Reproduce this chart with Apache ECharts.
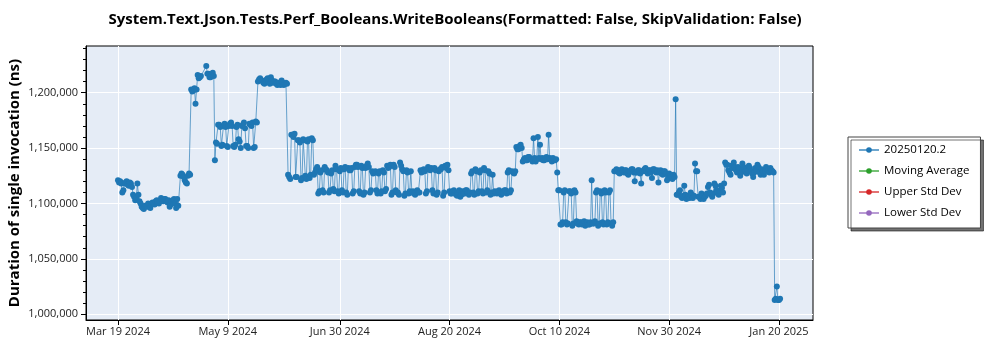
<!DOCTYPE html>
<html>
<head>
<meta charset="utf-8">
<script src="https://cdn.jsdelivr.net/npm/echarts@6/dist/echarts.min.js"></script>
<style>
html,body{margin:0;padding:0;background:#fff;}
#chart{width:1000px;height:350px;}
</style>
</head>
<body>
<div id="chart"></div>
<script>
// ---- data: [day of month (.5 = noon), duration in ns] per month ----
const mar2024 = [[19,1121000],[19.5,1119000],[20,1120000],[20.5,1118000],[21,1110000],[21.5,1112000],[22,1118000],[22.5,1119000],[23,1120000],[23.5,1117000],[24,1116000],[24.5,1119000],[25,1118000],[25.5,1115000],[26,1108000],[26.5,1106000],[27,1103000],[27.5,1105000],[28,1118000],[28.5,1108000],[29,1102000],[29.5,1100000],[30,1097000],[30.5,1096000],[31,1095000],[31.5,1098000]];
const apr2024 = [[1,1098000],[1.5,1097000],[2,1100000],[2.5,1099000],[3,1096000],[3.5,1099000],[4,1101000],[4.5,1100000],[5,1099000],[5.5,1102000],[6,1103000],[6.5,1101000],[7,1100000],[7.5,1102000],[8,1105000],[8.5,1103000],[9,1102000],[9.5,1104000],[10,1104000],[10.5,1102000],[11,1101000],[11.5,1103000],[12,1097000],[12.5,1099000],[13,1102000],[13.5,1103000],[14,1104000],[14.5,1100000],[15,1096000],[15.5,1104000],[16,1098000],[17,1125000],[17.5,1127000],[18,1126000],[18.5,1124000],[19,1121000],[19.5,1119000],[20,1118000],[20.5,1125000],[21,1127000],[21.5,1126000],[22,1203000],[22.5,1201000],[23,1202000],[23.5,1204000],[24,1190000],[24.5,1203000],[25,1216000],[25.5,1213000],[26,1214000],[26.5,1215000],[29,1224000],[29.5,1217000],[30,1217000],[30.5,1214000]];
const may2024 = [[1,1214000],[1.5,1216000],[2,1218000],[2.5,1215000],[3,1139000],[3.5,1155000],[4,1154000],[4.5,1171000],[5,1171000],[5.5,1169000],[6,1152000],[6.5,1153000],[7,1170000],[7.5,1172000],[8,1169000],[8.5,1152000],[9,1151000],[9.5,1170000],[10,1172000],[10.5,1173000],[11,1170000],[11.5,1152000],[12,1151000],[12.5,1153000],[13,1169000],[13.5,1171000],[14,1158000],[14.5,1156000],[15,1150000],[15.5,1170000],[16,1171000],[16.5,1173000],[17,1168000],[17.5,1152000],[18,1152000],[18.5,1150000],[19,1172000],[19.5,1171000],[20,1170000],[20.5,1173000],[21,1150000],[21.5,1151000],[22,1174000],[22.5,1173000],[23,1210000],[23.5,1212000],[24,1213000],[24.5,1211000],[25,1211000],[25.5,1209000],[26,1208000],[26.5,1210000],[27,1212000],[27.5,1213000],[28,1210000],[28.5,1208000],[29,1214000],[29.5,1211000],[30,1209000],[30.5,1210000],[31,1210000],[31.5,1208000]];
const jun2024 = [[1,1207000],[1.5,1209000],[2,1208000],[2.5,1207000],[3,1211000],[3.5,1209000],[4,1207000],[4.5,1208000],[5,1209000],[5.5,1208000],[6,1126000],[6.5,1124000],[7,1122000],[7.5,1162000],[8,1162000],[8.5,1160000],[9,1163000],[9.5,1124000],[10,1124000],[10.5,1157000],[11,1157000],[11.5,1155000],[12,1121000],[12.5,1123000],[13,1158000],[13.5,1157000],[14,1125000],[14.5,1122000],[15,1156000],[15.5,1158000],[16,1123000],[16.5,1126000],[17,1159000],[17.5,1157000],[18,1126000],[18.5,1128000],[19,1131000],[19.5,1133000],[20,1109000],[20.5,1111000],[21,1128000],[21.5,1130000],[22,1112000],[22.5,1110000],[23,1133000],[23.5,1131000],[24,1130000],[24.5,1128000],[25,1110000],[25.5,1112000],[26,1127000],[26.5,1130000],[27,1113000],[27.5,1111000],[28,1134000],[28.5,1131000],[29,1111000],[29.5,1109000],[30,1129000],[30.5,1132000]];
const jul2024 = [[1,1112000],[1.5,1110000],[2,1131000],[2.5,1133000],[3,1110000],[3.5,1108000],[4,1132000],[4.5,1130000],[5,1130000],[5.5,1132000],[6,1109000],[6.5,1111000],[7,1133000],[7.5,1135000],[8,1135000],[8.5,1133000],[9,1111000],[9.5,1109000],[10,1134000],[10.5,1132000],[11,1108000],[11.5,1110000],[12,1132000],[12.5,1134000],[13,1136000],[13.5,1133000],[14,1110000],[14.5,1112000],[15,1129000],[15.5,1127000],[16,1128000],[16.5,1129000],[17,1112000],[17.5,1109000],[18,1127000],[18.5,1129000],[19,1109000],[19.5,1111000],[20,1130000],[20.5,1128000],[21,1111000],[21.5,1113000],[22,1134000],[22.5,1132000],[23,1133000],[23.5,1135000],[24,1108000],[24.5,1110000],[25,1135000],[25.5,1133000],[26,1112000],[26.5,1110000],[27,1110000],[27.5,1108000],[28,1137000],[28.5,1134000],[29,1131000],[29.5,1129000],[30,1107000],[30.5,1109000],[31,1130000],[31.5,1128000]];
const aug2024 = [[1,1109000],[1.5,1111000],[2,1129000],[2.5,1110000],[3,1111000],[3.5,1109000],[4,1108000],[4.5,1110000],[5,1112000],[5.5,1110000],[6,1110000],[6.5,1130000],[7,1128000],[7.5,1130000],[8,1131000],[8.5,1129000],[9,1109000],[9.5,1111000],[10,1133000],[10.5,1131000],[11,1130000],[11.5,1132000],[12,1112000],[12.5,1109000],[13,1132000],[13.5,1130000],[14,1108000],[14.5,1110000],[15,1129000],[15.5,1131000],[16,1131000],[16.5,1133000],[17,1107000],[17.5,1110000],[18,1134000],[18.5,1132000],[19,1135000],[19.5,1130000],[20,1111000],[20.5,1109000],[21,1109000],[21.5,1111000],[22,1112000],[22.5,1110000],[23,1108000],[23.5,1107000],[24,1110000],[24.5,1112000],[25,1106000],[25.5,1108000],[26,1111000],[26.5,1109000],[27,1109000],[27.5,1112000],[28,1112000],[28.5,1110000],[29,1108000],[29.5,1110000],[30,1127000],[30.5,1129000],[31,1110000],[31.5,1108000]];
const sep2024 = [[1,1131000],[1.5,1129000],[2,1109000],[2.5,1111000],[3,1128000],[3.5,1130000],[4,1111000],[4.5,1109000],[5,1132000],[5.5,1130000],[6,1110000],[6.5,1112000],[7,1129000],[7.5,1127000],[8,1108000],[8.5,1110000],[9,1126000],[9.5,1109000],[10,1111000],[10.5,1110000],[11,1109000],[11.5,1111000],[12,1112000],[12.5,1110000],[13,1108000],[13.5,1110000],[14,1110000],[14.5,1112000],[15,1112000],[15.5,1109000],[16,1128000],[16.5,1130000],[17,1110000],[17.5,1112000],[18,1129000],[18.5,1128000],[19,1127000],[19.5,1129000],[20,1151000],[20.5,1149000],[21,1149000],[21.5,1152000],[22,1153000],[22.5,1150000],[23,1138000],[23.5,1140000],[24,1141000],[24.5,1139000],[25,1139000],[25.5,1142000],[26,1142000],[26.5,1140000],[27,1140000],[27.5,1138000],[28,1159000],[28.5,1141000],[29,1138000],[29.5,1140000],[30,1160000],[30.5,1141000]];
const oct2024 = [[1,1153000],[1.5,1140000],[2,1141000],[2.5,1139000],[3,1139000],[3.5,1141000],[4,1142000],[4.5,1140000],[5,1162000],[5.5,1141000],[6,1140000],[6.5,1138000],[7,1141000],[7.5,1139000],[8,1139000],[8.5,1140000],[9,1128000],[9.5,1112000],[10,1112000],[10.5,1081000],[11,1081000],[11.5,1083000],[12,1110000],[12.5,1112000],[13,1083000],[13.5,1081000],[14,1082000],[14.5,1111000],[15,1111000],[15.5,1109000],[16,1080000],[16.5,1082000],[17,1112000],[17.5,1110000],[18,1084000],[18.5,1082000],[19,1081000],[19.5,1083000],[20,1083000],[20.5,1081000],[21,1082000],[21.5,1084000],[22,1080000],[22.5,1082000],[23,1083000],[23.5,1081000],[24,1081000],[24.5,1083000],[25,1121000],[25.5,1082000],[26,1082000],[26.5,1084000],[27,1110000],[27.5,1112000],[28,1080000],[28.5,1082000],[29,1111000],[29.5,1109000],[30,1083000],[30.5,1081000],[31,1112000],[31.5,1110000]];
const nov2024 = [[1,1081000],[1.5,1083000],[2,1110000],[2.5,1112000],[3,1082000],[3.5,1080000],[4,1083000],[4.5,1129000],[5,1129000],[5.5,1131000],[6,1130000],[6.5,1128000],[7,1127000],[7.5,1130000],[8,1131000],[8.5,1129000],[9,1128000],[9.5,1130000],[10,1130000],[10.5,1127000],[11,1126000],[11.5,1129000],[12,1129000],[12.5,1131000],[13,1131000],[13.5,1128000],[14,1120000],[14.5,1128000],[15,1128000],[15.5,1130000],[16,1130000],[16.5,1127000],[17,1118000],[17.5,1129000],[18,1129000],[18.5,1131000],[19,1132000],[19.5,1129000],[20,1127000],[20.5,1130000],[21,1130000],[21.5,1128000],[22,1123000],[22.5,1131000],[23,1131000],[23.5,1129000],[24,1128000],[24.5,1130000],[25,1119000],[25.5,1128000],[26,1130000],[26.5,1127000],[27,1126000],[27.5,1129000],[28,1129000],[28.5,1127000],[29,1121000],[29.5,1124000],[30,1127000],[30.5,1125000]];
const dec2024 = [[1,1124000],[1.5,1122000],[2,1126000],[2.5,1124000],[3,1194000],[3.5,1108000],[4,1108000],[4.5,1110000],[5,1112000],[5.5,1106000],[6,1105000],[6.5,1107000],[7,1116000],[7.5,1108000],[8,1104000],[8.5,1106000],[9,1107000],[9.5,1105000],[10,1110000],[10.5,1108000],[11,1105000],[11.5,1107000],[12,1136000],[12.5,1129000],[13,1129000],[13.5,1106000],[14,1106000],[14.5,1104000],[15,1109000],[15.5,1107000],[16,1104000],[16.5,1106000],[17,1107000],[17.5,1109000],[18,1115000],[18.5,1117000],[19,1110000],[19.5,1108000],[20,1106000],[20.5,1109000],[21,1118000],[21.5,1116000],[22,1112000],[22.5,1110000],[23,1108000],[23.5,1111000],[24,1116000],[24.5,1114000],[25,1110000],[25.5,1118000],[26,1137000],[26.5,1135000],[27,1135000],[27.5,1130000],[28,1128000],[28.5,1126000],[29,1134000],[29.5,1132000],[30,1137000],[30.5,1133000],[31,1130000],[31.5,1128000]];
const jan2025 = [[1,1133000],[1.5,1131000],[2,1125000],[2.5,1128000],[3,1136000],[3.5,1133000],[4,1131000],[4.5,1129000],[5,1127000],[5.5,1130000],[6,1134000],[6.5,1132000],[7,1129000],[7.5,1127000],[8,1124000],[8.5,1128000],[9,1132000],[9.5,1130000],[10,1135000],[10.5,1133000],[11,1128000],[11.5,1126000],[12,1131000],[12.5,1129000],[13,1126000],[13.5,1129000],[14,1133000],[14.5,1131000],[15,1130000],[15.5,1128000],[16,1132000],[16.5,1130000],[17,1129000],[17.5,1128000],[18,1013000],[18.5,1014000],[19,1025000],[19.5,1013000],[20,1013000],[20.5,1014000]];

const xTickDates = ["2024-03-19","2024-05-09","2024-06-30","2024-08-20","2024-10-10","2024-11-30","2025-01-20"];
const yTickValues = [1000000,1050000,1100000,1150000,1200000];
const seriesNames = ["20250120.2","Moving Average","Upper Std Dev","Lower Std Dev"];
const seriesColors = ["#1f77b4","#2ca02c","#d62728","#9467bd"];
const titleText = "System.Text.Json.Tests.Perf_Booleans.WriteBooleans(Formatted: False, SkipValidation: False)";
const yName = "Duration of single invocation (ns)";

// ---- build ----
const MONTHS = ['Jan','Feb','Mar','Apr','May','Jun','Jul','Aug','Sep','Oct','Nov','Dec'];
function toTime(s){const p=s.split('-');return new Date(+p[0],+p[1]-1,+p[2]).getTime();}
function month(y,m,arr){
  return arr.map(function(r){
    const day = Math.floor(r[0]);
    const hour = Math.round((r[0]-day)*24);
    return [new Date(y,m-1,day,hour).getTime(), r[1]];
  });
}
const points = [].concat(
  month(2024,3,mar2024), month(2024,4,apr2024), month(2024,5,may2024), month(2024,6,jun2024),
  month(2024,7,jul2024), month(2024,8,aug2024), month(2024,9,sep2024), month(2024,10,oct2024),
  month(2024,11,nov2024), month(2024,12,dec2024), month(2025,1,jan2025)
);
const xTicks = xTickDates.map(toTime);
const xMin = new Date(2024,2,4,3,20).getTime();
const xMax = new Date(2025,1,4,19,0).getTime();
const yMin = 994850, yMax = 1242150;
const minorTicks = [];
for (let v = 1000000; v <= 1240000; v += 10000) minorTicks.push(v);

const FONT = '"Open Sans", "Noto Sans", sans-serif';
const chart = echarts.init(document.getElementById('chart'), null, {renderer:'canvas'});
chart.setOption({
  animation: false,
  textStyle: {fontFamily: FONT},
  title: {
    text: titleText, left: 450, top: 7, textAlign: 'center',
    textStyle: {fontSize: 15, fontWeight: 'bold', color: '#000', fontFamily: FONT}
  },
  legend: {
    orient: 'vertical', left: 848, top: 137,
    padding: [6, 11, 8, 10], itemGap: 7, itemWidth: 20, itemHeight: 7,
    backgroundColor: '#fff', borderColor: '#444', borderWidth: 1,
    shadowColor: 'rgba(0,0,0,0.55)', shadowBlur: 0, shadowOffsetX: 3, shadowOffsetY: 3,
    textStyle: {fontSize: 11.5, color: '#000', fontFamily: FONT, lineHeight: 14},
    data: seriesNames, selectedMode: false
  },
  grid: {
    left: 86, right: 187, top: 46, bottom: 30, outerBoundsMode: 'none', containLabel: false,
    show: true, backgroundColor: '#E5ECF6', borderColor: '#000', borderWidth: 1
  },
  xAxis: {
    type: 'value', min: xMin, max: xMax, scale: true,
    axisLine: {lineStyle: {color: '#000', width: 1}},
    axisTick: {show: true, customValues: xTicks, length: 5, lineStyle: {color: '#000'}},
    axisLabel: {
      customValues: xTicks, margin: 6, fontSize: 11, color: '#222', fontFamily: FONT,
      formatter: function(v){const d=new Date(v);return MONTHS[d.getMonth()]+' '+d.getDate()+' '+d.getFullYear();}
    },
    splitLine: {show: true, lineStyle: {color: '#fff', width: 1}}
  },
  yAxis: [{
    type: 'value', min: yMin, max: yMax,
    name: yName, nameLocation: 'middle', nameGap: 64, nameMoveOverlap: false,
    nameTextStyle: {fontSize: 15, fontWeight: 'bold', color: '#000', fontFamily: FONT},
    axisLine: {show: true, lineStyle: {color: '#000', width: 1}},
    axisTick: {show: true, customValues: yTickValues, length: 5, lineStyle: {color: '#000'}},
    axisLabel: {
      customValues: yTickValues, margin: 8, fontSize: 11, color: '#222', fontFamily: FONT,
      formatter: function(v){return Number(v).toLocaleString('en-US');}
    },
    splitLine: {show: true, lineStyle: {color: '#fff', width: 1}}
  },{
    type: 'value', min: yMin, max: yMax, position: 'left',
    axisLine: {show: false}, axisLabel: {show: false}, splitLine: {show: false},
    axisTick: {show: true, customValues: minorTicks, length: 3, lineStyle: {color: '#000'}}
  }],
  series: [
    {
      name: seriesNames[0], type: 'line', data: points,
      symbol: 'circle', symbolSize: 6, showAllSymbol: true,
      itemStyle: {color: seriesColors[0]},
      lineStyle: {color: seriesColors[0], width: 1, opacity: 0.65},
      emphasis: {disabled: true}
    },
    {name: seriesNames[1], type: 'line', data: [], symbol: 'circle', itemStyle:{color: seriesColors[1]}, lineStyle:{color: seriesColors[1], width:1, opacity:0.65}},
    {name: seriesNames[2], type: 'line', data: [], symbol: 'circle', itemStyle:{color: seriesColors[2]}, lineStyle:{color: seriesColors[2], width:1, opacity:0.65}},
    {name: seriesNames[3], type: 'line', data: [], symbol: 'circle', itemStyle:{color: seriesColors[3]}, lineStyle:{color: seriesColors[3], width:1, opacity:0.65}}
  ]
});
</script>
</body>
</html>
